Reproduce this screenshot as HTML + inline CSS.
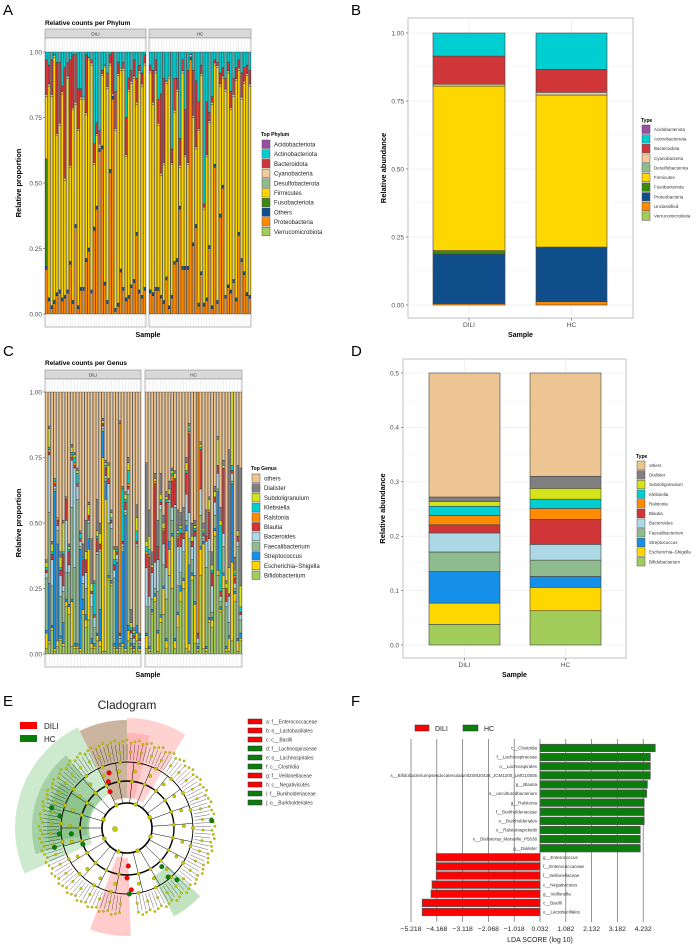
<!DOCTYPE html>
<html><head><meta charset="utf-8"><style>
html,body{margin:0;padding:0;background:#fff;}
svg{display:block;font-family:"Liberation Sans",Arial,sans-serif;}
</style></head><body>
<svg id="fig" width="696" height="944" viewBox="0 0 696 944" xmlns="http://www.w3.org/2000/svg"></svg>
<script>
// ---------- Panel A data (phylum per sample) ----------
const phyDiliProteo=[0.17,0.05,0.02,0.04,0.07,0.08,0.05,0.06,0.08,0.19,0.04,0.33,0.02,0.09,0.09,0.20,0.24,0.08,0.32,0.40,0.62,0.63,0.11,0.04,0.54,0.82,0.01,0.03,0.16,0.09,0.05,0.06,0.10,0.12,0.30,0.08,0.06,0.09];
const phyDiliFuso=[0.41,0,0,0,0,0,0,0,0,0,0,0,0,0,0,0,0,0,0,0,0,0,0,0,0,0,0,0,0,0,0,0,0,0,0,0,0,0];
const phyDiliFirmTop=[0.83,0.87,0.83,0.98,0.68,0.72,0.84,0.51,0.90,0.56,0.78,0.80,0.70,0.82,0.82,0.76,0.97,0.95,0.57,0.68,0.64,0.91,0.94,0.86,0.95,0.62,0.70,0.91,0.93,0.93,0.60,0.85,0.88,0.90,0.80,0.92,0.87,0.95];
const phyDiliBactTop=[0.97,0.95,0.97,0.99,0.96,0.96,0.87,0.94,0.96,0.97,0.99,0.99,0.86,0.86,0.78,0.99,0.98,0.97,0.65,0.73,0.70,0.93,0.95,0.92,0.99,0.80,0.85,0.96,0.93,0.96,0.75,0.90,0.93,0.97,0.90,0.95,0.92,0.99];
const phyHcProteo=[0.08,0.07,0.09,0.09,0.06,0.04,0.13,0.02,0.06,0.19,0.20,0.40,0.17,0.17,0.17,0.97,0.26,0.33,0.03,0.15,0.03,0.05,0.25,0.02,0.56,0.04,0.37,0.48,0.06,0.10,0.08,0.12,0.05,0.30,0.20,0.15,0.07,0.06];
const phyHcFirmTop=[0.92,0.80,0.92,0.72,0.53,0.57,0.88,0.90,0.57,0.77,0.85,0.56,0.92,0.60,0.57,0.97,0.75,0.63,0.70,0.91,0.40,0.60,0.73,0.80,0.95,0.94,0.87,0.90,0.85,0.92,0.78,0.83,0.89,0.93,0.82,0.88,0.91,0.87];
const phyHcBactTop=[0.95,0.93,0.97,0.82,0.84,0.90,0.89,0.90,0.63,0.90,0.90,0.67,0.97,0.78,0.93,0.98,0.93,0.89,0.81,0.95,0.42,0.81,0.77,0.83,0.97,0.96,0.92,0.94,0.90,0.96,0.85,0.90,0.94,0.97,0.92,0.94,0.95,0.93];
const phyLegend=["Acidobacteriota","Actinobacteriota","Bacteroidota","Cyanobacteria","Desulfobacterota","Firmicutes","Fusobacteriota","Others","Proteobacteria","Verrucomicrobiota"];
const phyColors=["#984EA3","#00CED1","#D03537","#F2C99A","#8FBC8F","#FFD700","#3A8A0B","#104E8B","#FF8C00","#A2CD5A"];
const propTicks=[0,0.25,0.5,0.75,1];
const propTickLabels=["0.00","0.25","0.50","0.75","1.00"];

// ---------- Panel B data ----------
const bGroups=["DILI","HC"];
const bLegend=["Acidobacteriota","Actinobacteriota","Bacteroidota","Cyanobacteria","Desulfobacterota","Firmicutes","Fusobacteriota","Proteobacteria","Unclassified","Verrucomicrobiota"];
const bColors=["#984EA3","#00CED1","#D03537","#F2C99A","#8FBC8F","#FFD700","#3A8A0B","#104E8B","#FF8C00","#A2CD5A"];
const bStackOrder=["Unclassified","Proteobacteria","Fusobacteriota","Firmicutes","Cyanobacteria","Bacteroidota","Actinobacteriota"];
const bDili=[0.005,0.182,0.013,0.605,0.007,0.103,0.085];
const bHc=[0.012,0.201,0.0,0.559,0.010,0.084,0.134];

// ---------- Panel C data (genus per sample) ----------
const gDiliBif=[0.02,0.04,0.09,0.01,0.03,0.05,0.03,0.18,0.15,0.03,0.02,0.02,0.01,0.15,0.10,0.13,0.02,0.02,0.05,0.03,0.01,0.01,0.28,0.26,0.02,0.01,0.02,0.03,0.01,0.05,0.02,0.01,0.05,0.01];
const gDiliEsch=[0.06,0.01,0.01,0.01,0.02,0.01,0.01,0.02,0.03,0.17,0.01,0.01,0.01,0.02,0.03,0.27,0.02,0.01,0.02,0.02,0.74,0.58,0.01,0.01,0.01,0.01,0.01,0.01,0.01,0.04,0.01,0.01,0.03,0.01];
const gDiliStrep=[0.01,0.22,0.01,0.60,0.37,0.01,0.08,0.01,0.01,0.01,0.01,0.01,0.38,0.04,0.02,0.04,0.02,0.01,0.01,0.12,0.10,0.07,0.01,0.01,0.01,0.33,0.01,0.35,0.51,0.02,0.01,0.01,0.03,0.01];
const gDiliFaec=[0.20,0.27,0.15,0.01,0.05,0.15,0.12,0.10,0.12,0.35,0.29,0.55,0.01,0.06,0.10,0.06,0.12,0.06,0.30,0.22,0.01,0.01,0.20,0.20,0.25,0.01,0.02,0.02,0.01,0.50,0.02,0.01,0.30,0.01];
const gDiliBact=[0.02,0.22,0.10,0.01,0.02,0.08,0.02,0.20,0.03,0.18,0.38,0.05,0.02,0.03,0.06,0.01,0.05,0.04,0.01,0.01,0.01,0.01,0.15,0.02,0.03,0.02,0.01,0.01,0.01,0.02,0.02,0.02,0.01,0.01];
const gDiliBlau=[0.01,0.01,0.02,0.01,0.02,0.02,0.12,0.08,0.05,0.01,0.01,0.01,0.01,0.06,0.05,0.02,0.01,0.01,0.05,0.02,0.01,0.03,0.02,0.01,0.02,0.01,0.01,0.01,0.03,0.01,0.01,0.01,0.01,0.01];
const gDiliRal=[0,0.01,0,0.01,0.01,0,0,0,0,0.01,0.01,0,0,0,0,0,0,0,0,0,0,0,0,0,0,0,0.80,0,0,0.01,0,0,0,0];
const gDiliKleb=[0.01,0.01,0.01,0.01,0,0.01,0.01,0,0.01,0.01,0.02,0.04,0.02,0.01,0,0,0,0.12,0.01,0,0,0.01,0,0.01,0.02,0.01,0,0.20,0.01,0.05,0.01,0.01,0.04,0.01];
const gDiliSub=[0.02,0.07,0.03,0,0,0.04,0.11,0,0.01,0.02,0.01,0.01,0,0,0.03,0.04,0.03,0,0.02,0.04,0.01,0.01,0.05,0.02,0.04,0,0,0,0.02,0.03,0.02,0.01,0.05,0];
const gDiliDial=[0.01,0.01,0.01,0,0,0.02,0.01,0.01,0.01,0.01,0.01,0.01,0.01,0.05,0.12,0.01,0.17,0.01,0.12,0.04,0.01,0.01,0.01,0.01,0.01,0.01,0.01,0.01,0.01,0.02,0.05,0.01,0.05,0.01];
const gHcBif=[0.02,0.01,0.15,0.20,0.01,0.12,0.15,0.02,0.30,0.25,0.02,0.10,0.20,0.25,0.02,0.01,0.28,0.04,0.01,0.30,0.02,0.01,0.12,0.10,0.45,0.30,0.16,0.25,0.01,0.01,0.05,0.20,0.01,0.05];
const gHcEsch=[0.05,0.01,0.01,0.02,0.07,0.02,0.10,0.03,0.10,0.20,0.03,0.05,0.04,0.03,0.45,0.03,0.02,0.15,0.01,0.10,0.40,0.01,0.01,0.03,0.02,0.02,0.01,0.05,0.01,0.05,0.30,0.03,0.04,0.01];
const gHcStrep=[0.01,0.01,0.01,0.01,0.01,0.01,0.01,0.01,0.03,0.01,0.01,0.01,0.02,0.01,0.02,0.30,0.01,0.01,0.01,0.01,0.01,0.01,0.01,0.01,0.01,0.30,0.01,0.01,0.01,0.01,0.30,0.01,0.01,0.02];
const gHcFaec=[0.10,0.15,0.04,0.02,0.15,0.40,0.08,0.15,0.15,0.05,0.50,0.10,0.05,0.10,0.02,0.10,0.05,0.10,0.01,0.12,0.01,0.30,0.25,0.02,0.05,0.01,0.02,0.10,0.15,0.05,0.01,0.01,0.35,0.05];
const gHcBact=[0.15,0.04,0.10,0.10,0.12,0.02,0.08,0.12,0.01,0.05,0.01,0.15,0.10,0.05,0.10,0.10,0.05,0.15,0.02,0.10,0.01,0.10,0.05,0.10,0.05,0.06,0.02,0.05,0.02,0.10,0.03,0.02,0.02,0.02];
const gHcBlau=[0.05,0.15,0.02,0.30,0.05,0.01,0.05,0.25,0.02,0.10,0.10,0.03,0.05,0.02,0.08,0.30,0.02,0.02,0.02,0.15,0.01,0.02,0.10,0.05,0.02,0.03,0.02,0.25,0.05,0.01,0.01,0.02,0.02,0.01];
const gHcRal=[0.01,0.01,0,0.01,0,0,0.01,0,0,0.02,0,0.01,0,0,0,0.01,0,0,0.92,0,0,0,0.01,0,0,0,0,0,0,0,0,0.01,0,0];
const gHcKleb=[0.02,0.02,0,0,0,0.01,0,0.01,0,0.01,0,0.01,0.02,0,0.01,0.01,0,0.01,0,0.01,0.01,0,0,0.01,0,0,0.25,0,0,0,0.02,0.01,0,0.02];
const gHcSub=[0.02,0.05,0.01,0.01,0,0.02,0.02,0.01,0.02,0.01,0.02,0.01,0.01,0,0.03,0.01,0.02,0.01,0,0.01,0.01,0,0.04,0.02,0.02,0.10,0.02,0.01,0.02,0.10,0.50,0.01,0.02,0.08];
const gHcDial=[0.30,0.10,0.05,0.02,0.10,0.08,0.03,0.02,0.03,0.01,0.01,0.08,0.05,0.10,0.02,0.01,0.05,0.02,0.01,0.01,0.02,0.10,0.01,0.05,0.02,0.01,0.05,0.02,0.01,0.45,0.02,0.05,0.25,0.45];
const genLegend=["others","Dialister","Subdoligranulum","Klebsiella","Ralstonia","Blautia","Bacteroides","Faecalibacterium","Streptococcus","Escherichia–Shigella","Bifidobacterium"];
const genColors=["#EDC592","#808080","#D5E31A","#00CED1","#FF8C00","#D03537","#ADD8E6","#8FBC8F","#1490E8","#FFD700","#A2CD5A"];

// ---------- Panel D data ----------
const dStackOrder=["Bifidobacterium","Escherichia–Shigella","Streptococcus","Faecalibacterium","Bacteroides","Blautia","Ralstonia","Klebsiella","Subdoligranulum","Dialister","others"];
const dDili=[0.038,0.039,0.058,0.036,0.035,0.015,0.017,0.017,0.009,0.008,0.228];
const dHc=[0.063,0.043,0.020,0.030,0.029,0.046,0.020,0.017,0.020,0.022,0.190];
const dTicks=[0,0.1,0.2,0.3,0.4,0.5];
const dTickLabels=["0.0","0.1","0.2","0.3","0.4","0.5"];

// ---------- Panel F data (LEfSe) ----------
const ldaLabels=["c__Clostridia","f__Lachnospiraceae","o__Lachnospirales","s__BifidobacteriumpseudocatenulatumDSM20438_JCM1200_LMG10505","g__Blautia","s__unculturedbacterium","g__Ralstonia","f__Burkholderiaceae","o__Burkholderiales","s__Ralstoniapickettii","s__Dialistersp_Marseille_P5638","g__Dialister","g__Enterococcus","f__Enterococcaceae","f__Veillonellaceae","c__Negativicutes","g__Veillonella","c__Bacilli","o__Lactobacillales"];
const ldaScores=[4.72,4.52,4.52,4.52,4.40,4.37,4.27,4.27,4.27,4.11,4.11,4.11,-4.19,-4.19,-4.19,-4.36,-4.40,-4.76,-4.76];
const ldaTicks=[-5.218,-4.168,-3.118,-2.068,-1.018,0.032,1.082,2.132,3.182,4.232];
const ldaTickLabels=["\u22125.218","\u22124.168","\u22123.118","\u22122.068","\u22121.018","0.032","1.082","2.132","3.182","4.232"];

// ---------- Panel E legend ----------
const cladeLegend=["a: f__Enterococcaceae","b: o__Lactobacillales","c: c__Bacilli","d: f__Lachnospiraceae","e: o__Lachnospirales","f: c__Clostridia","g: f__Veillonellaceae","h: c__Negativicutes","i: f__Burkholderiaceae","j: o__Burkholderiales"];
const cladeGroup=["DILI","DILI","DILI","HC","HC","HC","DILI","DILI","HC","HC"];

const NS="http://www.w3.org/2000/svg";
const svg=document.getElementById('fig');
function mk(tag,a,p){const e=document.createElementNS(NS,tag);for(const k in a)e.setAttribute(k,a[k]);(p||svg).appendChild(e);return e;}
function tx(x,y,s,size,extra,p){const e=mk('text',Object.assign({x:x,y:y,'font-size':size,fill:'#000'},extra||{}),p);e.textContent=s;return e;}
function grp(name){const g=mk('g',{});return g;}

[["A",3,15],["B",351,15],["C",3,356],["D",351,356],["E",3,706],["F",351,706]].forEach(function(l){
  const t=tx(l[1],l[2],l[0],15);
  
  
});

function facetChart(cfg){
  const g=grp(cfg.name);
  const y=function(v){return cfg.y0-(cfg.y0-cfg.y1)*v;};
  const t=tx(cfg.panels[0].x0,cfg.titleY,cfg.title,6.5,{'font-weight':'bold'},g);
  
  
  cfg.panels.forEach(function(p){
    const pg=mk('g',{},g);
    
    
    const s=mk('rect',{x:p.x0,y:cfg.stripY,width:p.x1-p.x0,height:9,fill:'#d9d9d9',stroke:'#8c8c8c','stroke-width':0.6},pg);
    
    
    tx((p.x0+p.x1)/2,cfg.stripY+6.5,p.label,4.5,{'text-anchor':'middle',fill:'#333'},pg);
    mk('rect',{x:p.x0,y:cfg.stripY+9,width:p.x1-p.x0,height:cfg.bottom-cfg.stripY-9,fill:'#fff',stroke:'#8c8c8c','stroke-width':0.6},pg);
    const n=p.samples.length, step=(p.x1-p.x0)/n, w=step*0.78;
    for(let i=0;i<n;i++){
      const cx=p.x0+step*(i+0.5);
      mk('line',{x1:cx,x2:cx,y1:cfg.stripY+9.5,y2:cfg.bottom-0.5,stroke:'#e6e6e6','stroke-width':0.5},pg);
      let acc=0;
      p.samples[i].forEach(function(seg){
        const v=Math.max(0,Math.min(seg[0],1-acc));
        if(v<=0)return;
        const r=mk('rect',{x:cx-w/2,y:y(acc+v),width:w,height:(cfg.y0-cfg.y1)*v,fill:seg[1],stroke:'#222','stroke-width':0.35},pg);
        
        
        acc+=v;
      });
    }
  });
  propTicks.forEach(function(v,i){
    tx(cfg.panels[0].x0-3,y(v)+2.3,propTickLabels[i],6.5,{'text-anchor':'end',fill:'#4d4d4d'},g);
    mk('line',{x1:cfg.panels[0].x0-2,x2:cfg.panels[0].x0,y1:y(v),y2:y(v),stroke:'#333','stroke-width':0.5},g);
  });
  const yt=tx(0,0,'Relative proportion',7.5,{'font-weight':'bold','text-anchor':'middle',transform:'translate(21,'+((cfg.y0+cfg.y1)/2)+') rotate(-90)'},g);
  
  
  const xt=tx(148,cfg.sampleY,'Sample',7,{'font-weight':'bold','text-anchor':'middle'},g);
  
  
  const lg=mk('g',{},g);
  
  
  tx(cfg.legX,cfg.legY-4,cfg.legTitle,5,{'font-weight':'bold'},lg);
  cfg.legItems.forEach(function(s,i){
    const yy=cfg.legY+i*9.7;
    const sw=mk('rect',{x:cfg.legX+1,y:yy,width:8,height:8.5,fill:cfg.legColors[i],stroke:'#555','stroke-width':0.5},lg);
    
    
    tx(cfg.legX+13,yy+6.5,s,6,{fill:'#222'},lg);
  });
}

function phySamples(pro,firm,bact,fuso){
  return pro.map(function(p,i){
    const fu=fuso?fuso[i]:0;
    const oth=0.012, cy=0.008;
    const firmV=Math.max(0,firm[i]-p-oth-fu);
    const bac=Math.max(0,bact[i]-firm[i]-cy);
    return [[p,phyColors[8]],[oth,phyColors[7]],[fu,phyColors[6]],[firmV,phyColors[5]],[cy,phyColors[3]],[bac,phyColors[2]],[1,phyColors[1]]];
  });
}
facetChart({name:'panel-a-phylum-chart',title:'Relative counts per Phylum',titleY:25,stripY:29,y0:314,y1:52,bottom:327,sampleY:337,
  panels:[{label:'DILI',x0:45,x1:146,samples:phySamples(phyDiliProteo,phyDiliFirmTop,phyDiliBactTop,phyDiliFuso)},
          {label:'HC',x0:149,x1:251,samples:phySamples(phyHcProteo,phyHcFirmTop,phyHcBactTop,null)}],
  legX:261,legY:140,legTitle:'Top Phylum',legItems:phyLegend,legColors:phyColors});

function genSamples(L){
  return L[0].map(function(_,i){
    const segs=[];
    const cols=[10,9,8,7,6,5,4,3,2,1];
    for(let k=0;k<L.length;k++)segs.push([L[k][i],genColors[cols[k]]]);
    segs.push([1,genColors[0]]);
    return segs;
  });
}
facetChart({name:'panel-c-genus-chart',title:'Relative counts per Genus',titleY:365,stripY:370,y0:654,y1:392,bottom:667,sampleY:677,
  panels:[{label:'DILI',x0:45,x1:141,samples:genSamples([gDiliBif,gDiliEsch,gDiliStrep,gDiliFaec,gDiliBact,gDiliBlau,gDiliRal,gDiliKleb,gDiliSub,gDiliDial])},
          {label:'HC',x0:145,x1:242,samples:genSamples([gHcBif,gHcEsch,gHcStrep,gHcFaec,gHcBact,gHcBlau,gHcRal,gHcKleb,gHcSub,gHcDial])}],
  legX:251,legY:474,legTitle:'Top Genus',legItems:genLegend,legColors:genColors});

function groupChart(cfg){
  const g=grp(cfg.name);
  const y=function(v){return cfg.y0-(cfg.y0-cfg.y1)*(v/cfg.max);};
  mk('rect',{x:cfg.px0,y:cfg.py0,width:cfg.px1-cfg.px0,height:cfg.py1-cfg.py0,fill:'#fff',stroke:'#b3b3b3','stroke-width':0.8},g);
  cfg.ticks.forEach(function(v,i){
    mk('line',{x1:cfg.px0,x2:cfg.px1,y1:y(v),y2:y(v),stroke:'#ebebeb','stroke-width':0.7},g);
    if(i<cfg.ticks.length-1){const m=(v+cfg.ticks[i+1])/2;mk('line',{x1:cfg.px0,x2:cfg.px1,y1:y(m),y2:y(m),stroke:'#f3f3f3','stroke-width':0.5},g);}
    tx(cfg.px0-4,y(v)+2.3,cfg.tickLabels[i],6.5,{'text-anchor':'end',fill:'#4d4d4d'},g);
    mk('line',{x1:cfg.px0-2,x2:cfg.px0,y1:y(v),y2:y(v),stroke:'#333','stroke-width':0.5},g);
  });
  cfg.bars.forEach(function(b){
    const cx=(b.x0+b.x1)/2;
    mk('line',{x1:cx,x2:cx,y1:cfg.py0,y2:cfg.py1,stroke:'#ebebeb','stroke-width':0.7},g);
  });
  cfg.bars.forEach(function(b){
    let acc=0;
    b.vals.forEach(function(v,k){
      if(v<=0)return;
      const r=mk('rect',{x:b.x0,y:y(acc+v),width:b.x1-b.x0,height:y(acc)-y(acc+v),fill:cfg.colorOf(k),stroke:'#444','stroke-width':0.6},g);
      
      
      acc+=v;
    });
    const cx=(b.x0+b.x1)/2;
    mk('line',{x1:cx,x2:cx,y1:cfg.py1,y2:cfg.py1+2.5,stroke:'#333','stroke-width':0.5},g);
    tx(cx,cfg.py1+9,b.label,6.5,{'text-anchor':'middle',fill:'#4d4d4d'},g);
  });
  const xt=tx((cfg.px0+cfg.px1)/2,cfg.py1+19,'Sample',7,{'font-weight':'bold','text-anchor':'middle'},g);
  
  
  const yt=tx(0,0,'Relative abundance',7.5,{'font-weight':'bold','text-anchor':'middle',transform:'translate('+cfg.yTitleX+','+((cfg.py0+cfg.py1)/2)+') rotate(-90)'},g);
  
  
  const lg=mk('g',{},g);
  
  
  tx(cfg.legX,cfg.legY-3,'Type',5,{'font-weight':'bold'},lg);
  cfg.legItems.forEach(function(s,i){
    const yy=cfg.legY+i*9.65;
    const sw=mk('rect',{x:cfg.legX+1,y:yy,width:8,height:8.5,fill:cfg.legColors[i],stroke:'#555','stroke-width':0.5},lg);
    
    
    tx(cfg.legX+13,yy+5.8,s,4.5,{fill:'#333'},lg);
  });
}
groupChart({name:'panel-b-phylum-abundance',px0:408,px1:633,py0:18,py1:318,y0:305,y1:33,max:1,ticks:propTicks,tickLabels:propTickLabels,
  bars:[{label:bGroups[0],x0:433,x1:505,vals:bDili},{label:bGroups[1],x0:536,x1:607,vals:bHc}],
  colorOf:function(k){return bColors[bLegend.indexOf(bStackOrder[k])];},
  yTitleX:386,legX:641,legY:125,legItems:bLegend,legColors:bColors});
groupChart({name:'panel-d-genus-abundance',px0:403,px1:626,py0:359,py1:658,y0:645,y1:373,max:0.5,ticks:dTicks,tickLabels:dTickLabels,
  bars:[{label:bGroups[0],x0:429,x1:500,vals:dDili},{label:bGroups[1],x0:530,x1:601,vals:dHc}],
  colorOf:function(k){return genColors[genLegend.indexOf(dStackOrder[k])];},
  yTitleX:385,legX:636,legY:461,legItems:genLegend,legColors:genColors});

(function(){
  const g=grp('panel-f-lda-chart');
  const xs=function(v){return 540+(v-0.032)*24.57;};
  const yTop=748, step=9.11, h=7.4;
  ldaTicks.forEach(function(v,i){
    mk('line',{x1:xs(v),x2:xs(v),y1:739,y2:922,stroke:'#666','stroke-width':0.7},g);
    tx(xs(v),931,ldaTickLabels[i],6.8,{'text-anchor':'middle',fill:'#222'},g);
  });
  ldaScores.forEach(function(s,i){
    const cy=yTop+i*step, x0=xs(0.032), x1=xs(s);
    const r=mk('rect',{x:Math.min(x0,x1),y:cy-h/2,width:Math.abs(x1-x0),height:h,fill:s>0?'#0a7d0a':'#ff0000',stroke:'#555','stroke-width':0.8},g);
    
    
    if(s>0) tx(x0-3,cy+1.6,ldaLabels[i],4.5,{'text-anchor':'end',fill:'#333'},g);
    else tx(x0+3,cy+1.6,ldaLabels[i],4.5,{fill:'#333'},g);
  });
  const xt=tx(540,942,'LDA SCORE (log 10)',7,{'text-anchor':'middle',fill:'#222'},g);
  
  
  const lg=mk('g',{},g);
  
  
  mk('rect',{x:415,y:725,width:14,height:6,fill:'#ff0000',stroke:'#333','stroke-width':0.5},lg);
  tx(435,731,'DILI',7,{fill:'#222'},lg);
  mk('rect',{x:463,y:725,width:15,height:6,fill:'#0a7d0a',stroke:'#333','stroke-width':0.5},lg);
  tx(484,731,'HC',7,{fill:'#222'},lg);
})();

(function(){
  const g=grp('panel-e-cladogram');
  const cx=127, cy=828;
  const P=function(a,r){const t=(a-90)*Math.PI/180;return [cx+r*Math.cos(t),cy+r*Math.sin(t)];};
  function sector(a0,a1,r0,r1,fill,op){
    const p0=P(a0,r1),p1=P(a1,r1),p2=P(a1,r0),p3=P(a0,r0),lg=(a1-a0)>180?1:0;
    const d='M'+p0+' A'+r1+' '+r1+' 0 '+lg+' 1 '+p1+' L'+p2+' A'+r0+' '+r0+' 0 '+lg+' 0 '+p3+' Z';
    mk('path',{d:d,fill:fill,'fill-opacity':op},g);
  }
  sector(-114,-26,38,112,'#4caf50',0.28);
  sector(-106,-40,38,95,'#2e8b2e',0.25);
  sector(-100,-55,40,80,'#2e8b2e',0.2);
  sector(-26,0,30,108,'#8b5a2b',0.45);
  sector(0,32,30,110,'#ff6b6b',0.3);
  sector(0,14,30,95,'#ff6b6b',0.25);
  sector(178,200,30,108,'#ff6b6b',0.35);
  sector(133,152,55,100,'#4caf50',0.35);
  [[25,1.6],[47,1.4],[66,0.9]].forEach(function(r){mk('circle',{cx:cx,cy:cy,r:r[0],fill:'none',stroke:'#000','stroke-width':r[1]},g);});
  const nLeaf=130;
  for(let i=0;i<nLeaf;i++){
    const a=-175+i*(350/nLeaf);
    const a1=P(a,68),a2=P(a,84);
    mk('line',{x1:a1[0],y1:a1[1],x2:a2[0],y2:a2[1],stroke:'#000','stroke-width':0.3},g);
    const q=P(a,85+(i%3)*1.5);
    mk('circle',{cx:q[0],cy:q[1],r:1.2,fill:'#c8c800',stroke:'#6b6b00','stroke-width':0.25},g);
    if(i%3===0){const m=P(a,76);mk('circle',{cx:m[0],cy:m[1],r:1.3,fill:'#c8c800',stroke:'#6b6b00','stroke-width':0.25},g);}
  }
  for(let i=0;i<22;i++){
    const a=-170+i*16;
    const b1=P(a,25),b2=P(a,66);
    mk('line',{x1:b1[0],y1:b1[1],x2:b2[0],y2:b2[1],stroke:'#000','stroke-width':0.5},g);
    [47,57,66].forEach(function(r,k){const q=P(a+k*2,r);mk('circle',{cx:q[0],cy:q[1],r:1.7,fill:'#c8c800',stroke:'#6b6b00','stroke-width':0.3},g);});
  }
  for(let i=0;i<8;i++){const q=P(-160+i*45,25);mk('circle',{cx:q[0],cy:q[1],r:2.0,fill:'#c8c800',stroke:'#6b6b00','stroke-width':0.3},g);}
  const red=[[-22,50],[-25,40],[-18,58],[178,38],[180,50],[176,62]];
  const green=[[-75,78],[-80,68],[-95,68],[-96,56],[-110,47],[138,52],[140,64],[136,72],[85,85],[178,66],[-105,75]];
  red.forEach(function(n){const q=P(n[0],n[1]);mk('circle',{cx:q[0],cy:q[1],r:2.3,fill:'#ff0000',stroke:'#600','stroke-width':0.3},g);});
  green.forEach(function(n){const q=P(n[0],n[1]);mk('circle',{cx:q[0],cy:q[1],r:2.3,fill:'#0a7d0a',stroke:'#030','stroke-width':0.3},g);});
  mk('circle',{cx:cx-12,cy:cy+1,r:2.6,fill:'#c8c800',stroke:'#6b6b00','stroke-width':0.3},g);
  const t=tx(127,709,'Cladogram',12,{'text-anchor':'middle',fill:'#222'},g);
  
  
  const lg=mk('g',{},g);
  
  
  mk('rect',{x:20,y:722,width:17,height:7,fill:'#ff0000'},lg);
  tx(44,729,'DILI',8,{fill:'#222'},lg);
  mk('rect',{x:20,y:735,width:17,height:7,fill:'#0a7d0a'},lg);
  tx(44,742,'HC',8,{fill:'#222'},lg);
  const ll=mk('g',{},g);
  
  
  cladeLegend.forEach(function(s,i){
    const yy=719+i*9;
    mk('rect',{x:248,y:yy,width:14,height:5,fill:cladeGroup[i]==='DILI'?'#ff0000':'#0a7d0a',stroke:'#333','stroke-width':0.5},ll);
    tx(266,yy+4.5,s,5,{fill:'#333'},ll);
  });
})();
</script>
</body></html>
